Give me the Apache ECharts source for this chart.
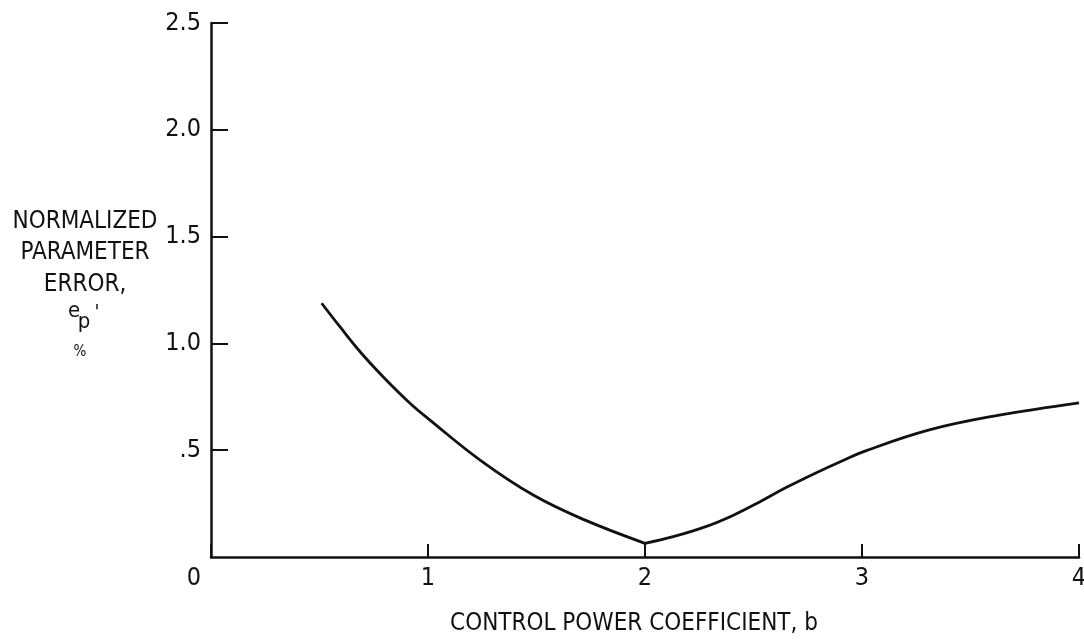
<!DOCTYPE html>
<html>
<head>
<meta charset="utf-8">
<script src="https://cdn.jsdelivr.net/npm/echarts@6/dist/echarts.min.js"></script>
<style>
  html, body { margin: 0; padding: 0; background: #fff; }
  #chart { width: 1084px; height: 641px; }
</style>
</head>
<body>
<div id="chart"></div>
<script>
// control power coefficient b
const leftB = [0.51, 0.594, 0.687, 0.794, 0.917, 1.009, 1.24, 1.485, 1.716, 2.0]
const leftErr = [1.188, 1.078, 0.961, 0.843, 0.72, 0.641, 0.454, 0.29, 0.176, 0.064]
// right branch, starts at the cusp at b = 2
const rightB = [2.0, 2.13, 2.28, 2.41, 2.53, 2.65, 2.78, 2.9, 3.02, 3.31, 3.62, 4.0]
const rightErr = [0.064, 0.095, 0.142, 0.197, 0.259, 0.325, 0.39, 0.446, 0.498, 0.595, 0.662, 0.722]

const xTicks = ['0', '1', '2', '3', '4']
const yTicks = ['0', '.5', '1.0', '1.5', '2.0', '2.5']
const yTitle = ['NORMALIZED', 'PARAMETER', 'ERROR,']

const FONT = '"DejaVu Sans Condensed", "Liberation Sans Narrow", "DejaVu Sans", sans-serif'
const INK = '#111'

const toPairs = (xs, ys) => xs.map((x, i) => [x, ys[i]])

const myChart = echarts.init(document.getElementById('chart'), null, {renderer: 'canvas'})

const label = (text, x, y, size) => ({
  type: 'text',
  x: x,
  y: y,
  style: {text: text, align: 'center', verticalAlign: 'middle', fill: INK, font: size + 'px ' + FONT}
})

const option = {
  animation: false,
  backgroundColor: '#fff',
  grid: {
    left: 211,
    right: 5,
    top: 23,
    bottom: 84,
    containLabel: false,
    outerBoundsMode: 'none'
  },
  xAxis: {
    type: 'value',
    min: 0,
    max: 4,
    interval: 1,
    splitLine: {show: false},
    axisLine: {show: true, onZero: false, lineStyle: {color: INK, width: 2.5}},
    axisTick: {show: true, inside: true, length: 13, lineStyle: {color: INK, width: 2}},
    axisLabel: {
      margin: 9,
      color: INK,
      fontFamily: FONT,
      fontSize: 25,
      formatter: function (value) {
        const s = xTicks[Math.round(value)]
        // the 0 sits a bit left of the corner
        return value === 0 ? '{z|' + s + '}' : s
      },
      rich: {
        z: {fontFamily: FONT, fontSize: 25, color: INK, padding: [0, 34, 0, 0]}
      }
    },
    name: 'CONTROL POWER COEFFICIENT, b',
    nameLocation: 'middle',
    nameGap: 55,
    nameTextStyle: {color: INK, fontFamily: FONT, fontSize: 24, padding: [0, 22, 0, 0]}
  },
  yAxis: {
    type: 'value',
    min: 0,
    max: 2.5,
    interval: 0.5,
    splitLine: {show: false},
    axisLine: {show: true, onZero: false, lineStyle: {color: INK, width: 2.5}},
    axisTick: {show: true, inside: true, length: 17, lineStyle: {color: INK, width: 2}},
    axisLabel: {
      margin: 10,
      color: INK,
      fontFamily: FONT,
      fontSize: 25,
      showMinLabel: false,
      formatter: function (value) {
        return yTicks[Math.round(value * 2)]
      }
    }
  },
  graphic: [
    label(yTitle[0], 85, 222, 24),
    label(yTitle[1], 85, 253, 24),
    label(yTitle[2], 85, 285, 24),
    label('e', 74, 311, 22),
    label('p', 84, 322, 22),
    label('\'', 97, 313, 20),
    label('%', 80, 352, 15)
  ],
  series: [
    {
      name: 'left',
      type: 'line',
      smooth: 0.4,
      showSymbol: false,
      lineStyle: {color: INK, width: 2.8},
      data: toPairs(leftB, leftErr)
    },
    {
      name: 'right',
      type: 'line',
      smooth: 0.4,
      showSymbol: false,
      lineStyle: {color: INK, width: 2.8},
      data: toPairs(rightB, rightErr)
    }
  ]
}

myChart.setOption(option)
</script>
</body>
</html>
